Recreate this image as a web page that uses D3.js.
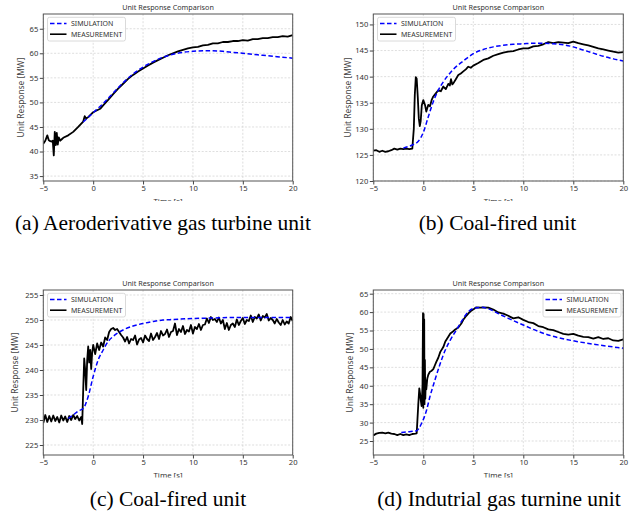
<!DOCTYPE html>
<html>
<head>
<meta charset="utf-8">
<script src="https://cdn.jsdelivr.net/npm/d3@7"></script>
<style>
  body { margin: 0; background: #fff; }
  svg { display: block; }
  .tick text { font-family: "Noto Sans", sans-serif; font-size: 7.6px; fill: #333; }
  .tick line, .domain { stroke: #444; }
  .grid line { stroke: #c8c8c8; stroke-width: 0.6; stroke-dasharray: 2,1.6; }
</style>
</head>
<body>
<div id="figure"></div>
<script>
// Shared axis ticks and legend names
var timeTicks = [-5, 0, 5, 10, 15, 20];
var seriesNames = ["SIMULATION", "MEASUREMENT"];

// (a) Aeroderivative gas turbine unit
var measA_t = [-5, -4.8, -4.6, -4.45, -4.3, -4.15, -4.05, -3.95, -3.85, -3.75, -3.65, -3.55, -3.45, -3.3, -3.15, -3,
  -2.5, -2, -1.5, -1, -0.85, -0.7, -0.5, -0.3, 0, 0.3, 0.7, 1, 1.5, 2, 2.5, 3, 3.5, 4, 4.5, 5, 5.5, 6, 6.5, 7, 7.5,
  8, 8.5, 9, 9.5, 10, 10.5, 11, 11.5, 12, 12.5, 13, 13.5, 14, 14.5, 15, 15.5, 16, 16.5, 17, 17.5, 18, 18.5, 19, 19.5, 20];
var measA_v = [41.6, 42.2, 43.3, 42.3, 42.1, 42.0, 42.2, 39.2, 44.0, 41.3, 43.8, 41.4, 42.9, 42.2, 42.5, 42.8,
  43.3, 44.0, 45.0, 46.1, 47.2, 46.7, 47.0, 47.4, 48.0, 48.3, 48.7, 49.4, 50.5, 51.7, 52.8, 53.8, 54.8, 55.6, 56.3, 56.9, 57.5, 58.1, 58.6, 59.1, 59.6,
  60.0, 60.4, 60.7, 61.0, 61.2, 61.3, 61.6, 61.7, 62.0, 62.0, 62.3, 62.3, 62.5, 62.5, 62.7, 62.6, 62.9, 62.9, 63.1, 63.1, 63.3, 63.3, 63.5, 63.4, 63.7];
var simA_t = [-1, 0, 1, 2, 3, 4, 5, 6, 7, 8, 9, 10, 11, 12, 13, 14, 15, 16, 17, 18, 19, 20];
var simA_v = [46.0, 47.9, 49.8, 51.9, 54.0, 55.8, 57.2, 58.3, 59.2, 59.8, 60.2, 60.4, 60.5, 60.5, 60.4, 60.2, 60.0, 59.8, 59.6, 59.4, 59.2, 59.0];
var ticksA = [35, 40, 45, 50, 55, 60, 65];

// (b) Coal-fired unit
var measB_t = [-5, -4.7, -4.4, -4.1, -3.8, -3.5, -3.2, -2.9, -2.6, -2.3, -2, -1.7, -1.4, -1.1, -0.95, -0.85, -0.75, -0.66,
  -0.55, -0.45, -0.35, -0.26, -0.15, 0, 0.18, 0.3, 0.5, 0.67, 0.85, 1.0, 1.25, 1.5, 1.75, 2.0, 2.25, 2.5, 2.65, 2.77, 2.9,
  3.0, 3.25, 3.5, 3.75, 4.0, 4.25, 4.5, 4.75, 5.0, 5.5, 6.0, 6.5, 7.0, 7.5, 8, 8.5, 9, 9.5, 10, 10.5, 11, 11.5, 12, 12.5,
  13, 13.5, 14, 14.5, 15, 15.5, 16, 16.5, 17, 17.5, 18, 18.5, 19, 19.5, 20];
var measB_v = [125.8, 125.9, 125.6, 125.8, 125.6, 125.7, 125.9, 126.2, 126.0, 126.2, 126.1, 126.2, 126.1, 126.2, 130.0, 136.5, 139.9, 139.6,
  136.0, 132.0, 130.5, 131.5, 134.5, 135.5, 134.5, 133.3, 134.6, 134.3, 135.6, 136.2, 136.8, 137.4, 137.2, 138.1, 137.6, 138.6, 138.3, 139.5, 138.5,
  138.7, 139.5, 140.3, 140.6, 141.0, 141.4, 141.9, 141.7, 142.1, 142.6, 143.2, 143.5, 144.0, 144.3, 144.6, 144.8, 144.9, 145.2, 145.4, 145.4, 145.8, 145.9, 146.2, 146.6,
  146.4, 146.6, 146.5, 146.4, 146.7, 146.4, 146.2, 146.0, 145.7, 145.4, 145.2, 145.0, 144.8, 144.6, 144.7];
var simB_t = [-2, -1.5, -1, -0.5, 0, 0.5, 1, 1.5, 2, 2.5, 3, 4, 5, 6, 7, 8, 9, 10, 11, 12, 13, 14, 15, 16, 17, 18, 19, 20];
var simB_v = [126.3, 126.6, 127.0, 127.6, 129.3, 132.3, 135.2, 137.4, 139.0, 140.3, 141.4, 143.0, 144.4, 145.2, 145.7, 146.0, 146.2, 146.3,
  146.4, 146.4, 146.3, 146.1, 145.7, 145.1, 144.5, 143.9, 143.4, 143.0];
var ticksB = [120, 125, 130, 135, 140, 145, 150];

// (c) Coal-fired unit
var measC_t = [-5, -4.8, -4.6, -4.4, -4.2, -4, -3.8, -3.6, -3.4, -3.2, -3, -2.8, -2.6, -2.4, -2.2, -2, -1.8, -1.6, -1.4, -1.2,
  -1.1, -1, -0.9, -0.8, -0.7, -0.6, -0.5, -0.4, -0.3, -0.2, -0.1, 0, 0.2, 0.4, 0.6, 0.8, 1, 1.2, 1.4, 1.6, 1.8, 2, 2.2, 2.4,
  2.6, 2.8, 3, 3.2, 3.4, 3.6, 3.8, 4, 4.2, 4.4, 4.6, 4.8, 5, 5.2, 5.4, 5.6, 5.8, 6, 6.2, 6.4, 6.6, 6.8, 7, 7.2, 7.4, 7.6,
  7.8, 8, 8.2, 8.4, 8.6, 8.8, 9, 9.2, 9.4, 9.6, 9.8, 10, 10.2, 10.4, 10.6, 10.8, 11, 11.2, 11.4, 11.6, 11.8, 12, 12.2,
  12.4, 12.6, 12.8, 13, 13.2, 13.4, 13.6, 13.8, 14, 14.2, 14.4, 14.6, 14.8, 15, 15.2, 15.4, 15.6, 15.8, 16, 16.2, 16.4,
  16.6, 16.8, 17, 17.2, 17.4, 17.6, 17.8, 18, 18.2, 18.4, 18.6, 18.8, 19, 19.2, 19.4, 19.6, 19.8, 20];
var measC_v = [229.4, 231.0, 229.6, 230.8, 229.7, 230.9, 229.8, 230.6, 229.5, 230.9, 229.9, 230.7, 229.6, 230.8, 230.0, 231.0, 230.2, 230.8, 229.9, 230.6,
  229.2, 236.0, 242.3, 240.0, 236.0, 242.0, 244.7, 241.5, 244.0, 240.2, 243.5, 245.0,
  243.2, 245.3, 244.0, 245.5, 244.7, 246.5, 246.0, 247.6, 248.2, 248.4, 248.0, 248.2, 247.6, 247.0,
  246.5, 245.7, 246.6, 245.3, 246.2,
  246.0, 246.9, 245.1, 246.1, 246.4,
  245.5, 246.9, 246.2, 245.8, 247.3,
  246.0, 246.6, 247.4, 246.2, 247.8,
  246.9, 247.2, 248.1, 246.6, 247.6,
  247.8, 249.3, 247.0, 248.2, 247.6,
  248.8, 247.2, 248.0, 247.7, 249.0,
  247.3, 248.6, 248.2, 249.2, 248.0,
  249.0, 249.1, 250.3, 249.4, 250.6,
  250.0, 250.2, 249.6, 250.5, 249.3,
  250.0, 248.2, 249.4, 248.0, 249.0,
  249.3, 248.6, 250.1, 249.0, 249.8,
  250.4, 249.2, 250.0, 249.8, 250.9,
  249.6, 250.6, 250.3, 251.1, 249.9,
  250.8, 250.5, 251.2, 249.9, 250.4,
  250.0, 249.3, 250.2, 249.5, 249.0,
  250.0, 249.1, 249.7, 249.3, 250.6,
  249.8];
var simC_t = [-2.5, -2, -1.5, -1, -0.5, 0, 0.5, 1, 1.5, 2, 3, 4, 5, 6, 7, 8, 10, 12, 14, 16, 18, 20];
var simC_v = [230.3, 231.0, 231.8, 232.3, 234.7, 238.7, 242.0, 244.0, 245.7, 246.7, 248.0, 248.8, 249.3, 249.7, 250.0, 250.1, 250.3, 250.4, 250.5, 250.5, 250.5, 250.5];
var ticksC = [225, 230, 235, 240, 245, 250, 255];

// (d) Indutrial gas turnine unit
var measD_t = [-5, -4.7, -4.4, -4.1, -3.8, -3.5, -3.2, -2.9, -2.6, -2.3, -2.0, -1.7, -1.4, -1.1, -0.8,
  -0.66, -0.5, -0.4, -0.33, -0.25, -0.17, -0.08, -0.03, 0.0, 0.03, 0.06, 0.09, 0.12, 0.16, 0.2, 0.25, 0.3, 0.4, 0.5, 0.66,
  0.8, 1.0, 1.15, 1.3, 1.5, 1.7, 2.0, 2.2, 2.5, 2.7, 3.0, 3.2, 3.5, 3.8, 4.0, 4.3, 4.6, 4.8, 5.1, 5.3,
  5.7, 6.0, 6.5, 7.0, 7.5, 8, 8.5, 9, 9.5, 10, 10.5, 11, 11.5, 12, 12.5, 13, 13.5, 14, 14.5, 15, 15.5, 16, 16.5, 17, 17.5,
  18, 18.5, 19, 19.5, 20];
var measD_v = [26.5, 27.0, 27.2, 27.3, 27.1, 27.3, 27.0, 26.9, 26.6, 26.9, 26.6, 26.8, 26.6, 26.9, 27.0,
  27.1, 35.0, 39.3, 38.0, 36.0, 34.5, 40.0, 59.7, 34.0, 59.5, 36.0, 58.0, 35.0, 47.0, 36.5, 41.5, 39.0, 42.0, 43.0, 43.8,
  44.0, 44.5, 45.5, 46.5, 47.6, 49.2, 50.5, 52.0, 53.3, 54.2, 54.8, 55.3, 55.8, 56.9, 57.9, 59.0, 59.9, 60.4, 60.9, 61.3,
  61.2, 61.3, 61.2, 60.7, 59.9, 59.6, 59.0, 58.3, 58.6, 57.9, 57.3, 57.0, 56.2, 55.9, 55.3, 55.1, 54.6, 54.1, 53.9, 54.1,
  53.6, 53.3, 53.2, 52.8, 53.2, 52.7, 52.9, 52.3, 52.2, 52.6];
var simD_t = [-2.2, -1.5, -1, -0.66, -0.17, 0.33, 0.66, 1.17, 1.7, 2.2, 2.7, 3.3, 3.8, 4.5, 5, 5.8, 6.5, 7.5, 8.5, 10, 11, 12.5, 15, 17.5, 20];
var simD_v = [27.3, 27.5, 27.7, 27.8, 29.8, 33.4, 37.0, 41.6, 46.1, 49.7, 52.4, 55.1, 57.4, 60.1, 61.0, 61.3, 60.9, 59.6, 58.3, 56.5, 55.3, 53.8, 52.2, 51.1, 50.2];
var ticksD = [25, 30, 35, 40, 45, 50, 55, 60, 65];

// Figure size
var svgWidth = 639;
var svgHeight = 516;

// Panel layout (pixel boxes of each axes area) plus captions
var panels = [
  { id: "a", left: 43.3, right: 292.7, top: 14, bottom: 181, yDomain: [34, 68], yTicks: ticksA,
    meas: [measA_t, measA_v], sim: [simA_t, simA_v], legendRight: false, ylabelX: 21, clipY: 201,
    caption: "(a) Aeroderivative gas turbine unit", capX: 163, capY: 230 },
  { id: "b", left: 373.3, right: 623.3, top: 14, bottom: 181, yDomain: [120, 152], yTicks: ticksB,
    meas: [measB_t, measB_v], sim: [simB_t, simB_v], legendRight: false, ylabelX: 348.3, clipY: 201,
    caption: "(b) Coal-fired unit", capX: 497.5, capY: 230 },
  { id: "c", left: 43.3, right: 292.7, top: 290, bottom: 455, yDomain: [223, 256], yTicks: ticksC,
    meas: [measC_t, measC_v], sim: [simC_t, simC_v], legendRight: false, ylabelX: 15.5, clipY: 477.5,
    caption: "(c) Coal-fired unit", capX: 168, capY: 506 },
  { id: "d", left: 373.3, right: 623.3, top: 290, bottom: 455, yDomain: [21.2, 66], yTicks: ticksD,
    meas: [measD_t, measD_v], sim: [simD_t, simD_v], legendRight: true, ylabelX: 350, clipY: 477.5,
    caption: "(d) Indutrial gas turnine unit", capX: 499, capY: 506 }
];

var svg = d3.select("#figure")
  .append("svg")
  .attr("width", svgWidth)
  .attr("height", svgHeight);

// matplotlib style minus sign
function fmt(d) {
  return d < 0 ? "\u2212" + Math.abs(d) : String(d);
}

function zip(ts, vs) {
  return ts.map((t, i) => [t, vs[i]]);
}

function drawPanel(p) {
  var x = d3.scaleLinear().domain([-5, 20]).range([p.left, p.right]);
  var y = d3.scaleLinear().domain(p.yDomain).range([p.bottom, p.top]);

  var g = svg.append("g").attr("id", "panel-" + p.id);

  // Clip for the plot area
  g.append("clipPath")
    .attr("id", "clip-" + p.id)
    .append("rect")
    .attr("x", p.left)
    .attr("y", p.top)
    .attr("width", p.right - p.left)
    .attr("height", p.bottom - p.top);

  // Clip for the cut-off lower edge of the subfigure
  g.append("clipPath")
    .attr("id", "cut-" + p.id)
    .append("rect")
    .attr("x", p.left - 60)
    .attr("y", p.top - 20)
    .attr("width", p.right - p.left + 80)
    .attr("height", p.clipY - p.top + 20);

  // Grid lines
  var grid = g.append("g").attr("class", "grid");
  grid.selectAll(".gx")
    .data(timeTicks)
    .enter()
    .append("line")
    .attr("x1", (d) => x(d)).attr("x2", (d) => x(d))
    .attr("y1", p.top).attr("y2", p.bottom);
  grid.selectAll(".gy")
    .data(p.yTicks)
    .enter()
    .append("line")
    .attr("x1", p.left).attr("x2", p.right)
    .attr("y1", (d) => y(d)).attr("y2", (d) => y(d));

  // Series lines
  var line = d3.line().x((d) => x(d[0])).y((d) => y(d[1]));
  var smooth = d3.line().x((d) => x(d[0])).y((d) => y(d[1])).curve(d3.curveMonotoneX);
  var plot = g.append("g").attr("clip-path", `url(#clip-${p.id})`);

  plot.append("path")
    .datum(zip(p.meas[0], p.meas[1]))
    .attr("d", line)
    .attr("fill", "none")
    .attr("stroke", "#000")
    .attr("stroke-width", 1.8)
    .attr("stroke-linejoin", "round");

  plot.append("path")
    .datum(zip(p.sim[0], p.sim[1]))
    .attr("d", smooth)
    .attr("fill", "none")
    .attr("stroke", "#0000ff")
    .attr("stroke-width", 1.5)
    .attr("stroke-dasharray", "4.5,2.5");

  // Axes
  var cut = g.append("g").attr("clip-path", `url(#cut-${p.id})`);
  cut.append("g")
    .attr("transform", `translate(0, ${p.bottom})`)
    .call(d3.axisBottom(x).tickValues(timeTicks).tickFormat(fmt).tickSize(3.5).tickPadding(1.5))
    .call((s) => s.select(".domain").remove());
  g.append("g")
    .attr("transform", `translate(${p.left}, 0)`)
    .call(d3.axisLeft(y).tickValues(p.yTicks).tickFormat(fmt).tickSize(3.5).tickPadding(1.5))
    .call((s) => s.select(".domain").remove());

  // Frame
  g.append("rect")
    .attr("x", p.left)
    .attr("y", p.top)
    .attr("width", p.right - p.left)
    .attr("height", p.bottom - p.top)
    .attr("fill", "none")
    .attr("stroke", "#555")
    .attr("stroke-width", 1);

  // Title
  g.append("text")
    .attr("x", (p.left + p.right) / 2)
    .attr("y", p.top - 4)
    .attr("text-anchor", "middle")
    .style("font-family", "Noto Sans, sans-serif")
    .style("font-size", "7.2px")
    .style("fill", "#333")
    .text("Unit Response Comparison");

  // Axis labels
  cut.append("text")
    .attr("x", (p.left + p.right) / 2)
    .attr("y", p.bottom + 22.5)
    .attr("text-anchor", "middle")
    .style("font-family", "Noto Sans, sans-serif")
    .style("font-size", "7.8px")
    .style("fill", "#333")
    .text("Time [s]");

  g.append("text")
    .attr("transform", `translate(${p.ylabelX}, ${(p.top + p.bottom) / 2}) rotate(-90)`)
    .attr("text-anchor", "middle")
    .attr("dy", "0.35em")
    .style("font-family", "Noto Sans, sans-serif")
    .style("font-size", "8.4px")
    .style("fill", "#444")
    .text("Unit Response [MW]");

  // Legend
  var lw = 78;
  var lx = p.legendRight ? p.right - 2.3 - lw : p.left + 4.2;
  var ly = p.top + 3.3;
  var legend = g.append("g").attr("transform", `translate(${lx}, ${ly})`);
  legend.append("rect")
    .attr("width", lw)
    .attr("height", 23.7)
    .attr("rx", 2)
    .attr("fill", "#fff")
    .attr("fill-opacity", 0.85)
    .attr("stroke", "#d0d0d0")
    .attr("stroke-width", 0.8);

  var styles = [
    { stroke: "#0000ff", width: 1.5, dash: "4.5,2.5" },
    { stroke: "#000", width: 1.6, dash: null }
  ];
  seriesNames.forEach((name, i) => {
    var cy = 6.2 + i * 10.7;
    legend.append("line")
      .attr("x1", 2.5).attr("x2", 19)
      .attr("y1", cy).attr("y2", cy)
      .attr("stroke", styles[i].stroke)
      .attr("stroke-width", styles[i].width)
      .attr("stroke-dasharray", styles[i].dash);
    legend.append("text")
      .attr("x", 23.5)
      .attr("y", cy)
      .attr("dy", "0.35em")
      .style("font-family", "Noto Sans, sans-serif")
      .style("font-size", "7px")
      .style("fill", "#333")
      .text(name);
  });

  // Caption
  svg.append("text")
    .attr("x", p.capX)
    .attr("y", p.capY)
    .attr("text-anchor", "middle")
    .style("font-family", "'Liberation Serif', 'Times New Roman', serif")
    .style("font-size", "21.5px")
    .style("fill", "#000")
    .text(p.caption);
}

panels.forEach(drawPanel);
</script>
</body>
</html>
